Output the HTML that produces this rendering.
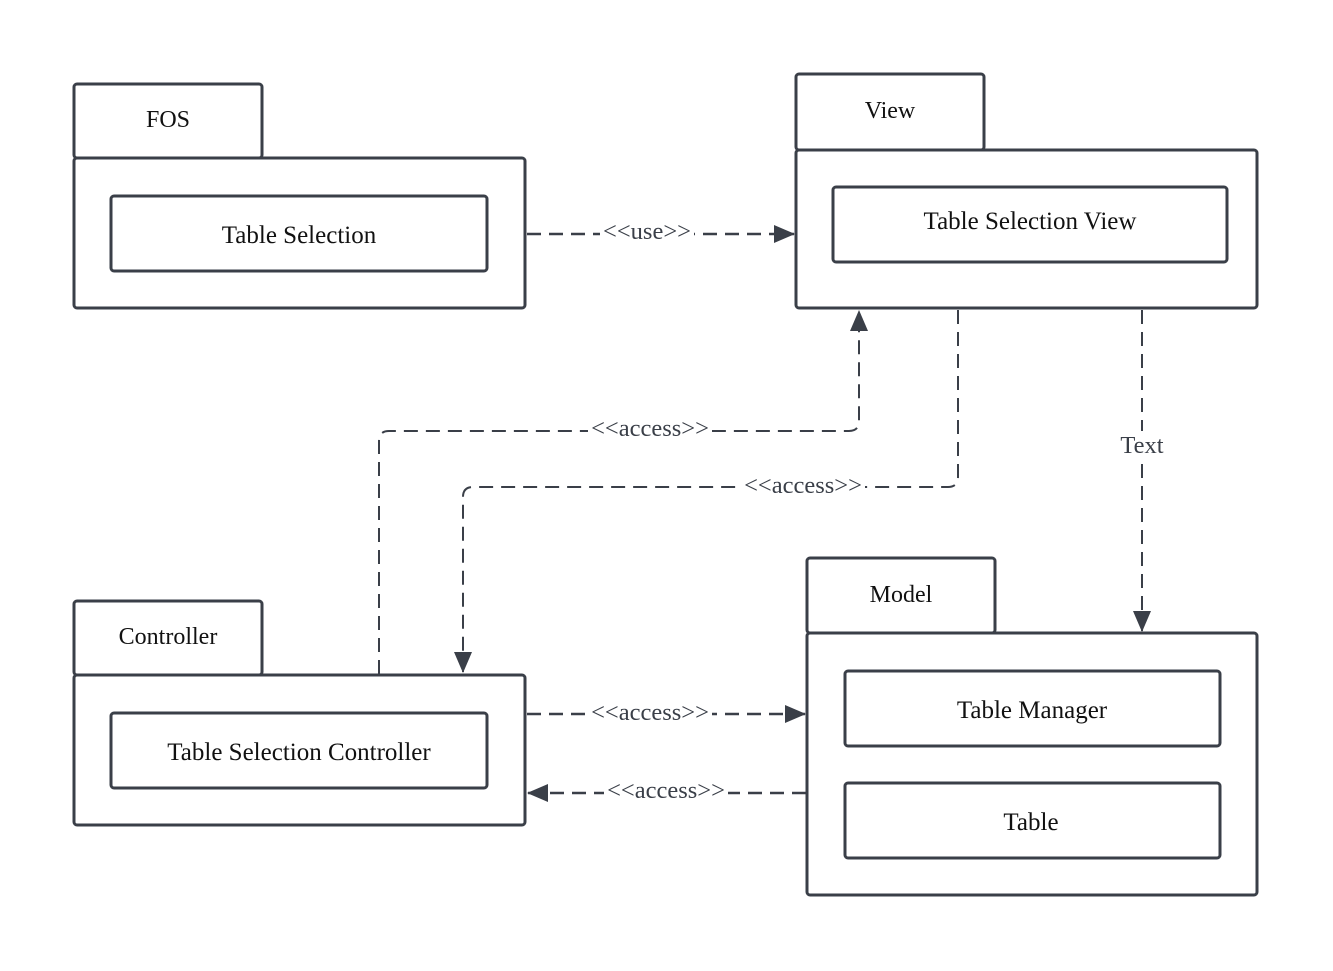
<!DOCTYPE html>
<html><head><meta charset="utf-8"><style>
html,body{margin:0;padding:0;background:#fff;}
svg{display:block;}
text{font-family:"Liberation Serif",serif;font-size:25px;fill:#111;}
.t{font-size:24px;}
.lbl{font-size:24.5px;fill:#3a3f48;}
</style></head><body>
<svg width="1333" height="971" viewBox="0 0 1333 971" xmlns="http://www.w3.org/2000/svg">
<defs>
<marker id="ah" markerWidth="22" markerHeight="20" refX="20" refY="10" orient="auto" markerUnits="userSpaceOnUse">
<path d="M0,1 L21,10 L0,19 z" fill="#3a3f48"/>
</marker>
</defs>
<g fill="#fff" stroke="#3a3f48" stroke-width="3">
<rect x="74" y="84" width="188" height="74" rx="3"/>
<rect x="74" y="158" width="451" height="150" rx="3"/>
<rect x="111" y="196" width="376" height="75" rx="3"/>
<rect x="796" y="74" width="188" height="76" rx="3"/>
<rect x="796" y="150" width="461" height="158" rx="3"/>
<rect x="833" y="187" width="394" height="75" rx="3"/>
<rect x="74" y="601" width="188" height="74" rx="3"/>
<rect x="74" y="675" width="451" height="150" rx="3"/>
<rect x="111" y="713" width="376" height="75" rx="3"/>
<rect x="807" y="558" width="188" height="75" rx="3"/>
<rect x="807" y="633" width="450" height="262" rx="3"/>
<rect x="845" y="671" width="375" height="75" rx="3"/>
<rect x="845" y="783" width="375" height="75" rx="3"/>
</g>
<g fill="none" stroke="#3a3f48" stroke-width="2" stroke-dasharray="14,8">
<path d="M527,234 H794" marker-end="url(#ah)" stroke-width="2.5"/>
<path d="M379,674 V441 Q379,431 389,431 H849 Q859,431 859,421 V311" marker-end="url(#ah)"/>
<path d="M958,310 V477 Q958,487 948,487 H473 Q463,487 463,497 V672" marker-end="url(#ah)"/>
<path d="M1142,310 V631" marker-end="url(#ah)"/>
<path d="M527,714 H805" marker-end="url(#ah)" stroke-width="2.5"/>
<path d="M806,793 H528" marker-end="url(#ah)" stroke-width="2.5"/>
</g>
<g text-anchor="middle">
<rect x="600" y="219" width="94" height="26" fill="#fff"/>
<text class="lbl" x="647" y="239">&lt;&lt;use&gt;&gt;</text>
<rect x="588" y="416" width="124" height="26" fill="#fff"/>
<text class="lbl" x="650" y="436">&lt;&lt;access&gt;&gt;</text>
<rect x="741" y="473" width="124" height="26" fill="#fff"/>
<text class="lbl" x="803" y="493">&lt;&lt;access&gt;&gt;</text>
<rect x="1117" y="431" width="50" height="28" fill="#fff"/>
<text class="lbl" x="1142" y="453">Text</text>
<rect x="588" y="700" width="124" height="26" fill="#fff"/>
<text class="lbl" x="650" y="720">&lt;&lt;access&gt;&gt;</text>
<rect x="604" y="778" width="124" height="26" fill="#fff"/>
<text class="lbl" x="666" y="798">&lt;&lt;access&gt;&gt;</text>

<text class="t" x="168" y="127">FOS</text>
<text x="299" y="243">Table Selection</text>
<text class="t" x="890" y="118">View</text>
<text x="1030" y="229">Table Selection View</text>
<text class="t" x="168" y="644">Controller</text>
<text x="299" y="760">Table Selection Controller</text>
<text class="t" x="901" y="602">Model</text>
<text x="1032" y="718">Table Manager</text>
<text x="1031" y="830">Table</text>
</g>
</svg>
</body></html>
